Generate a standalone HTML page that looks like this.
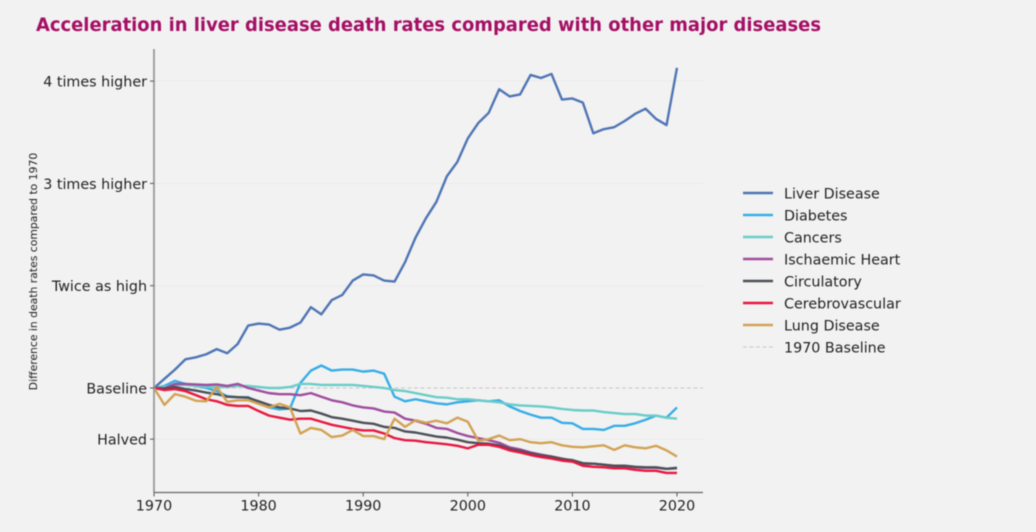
<!DOCTYPE html>
<html lang="en">
<head>
<meta charset="utf-8">
<title>Acceleration in liver disease death rates</title>
<style>
html,body{margin:0;padding:0;background:#f2f2f2;}
body{width:1036px;height:532px;overflow:hidden;}
svg{display:block;filter:blur(0.45px);font-family:"DejaVu Sans","Liberation Sans",sans-serif;}
</style>
</head>
<body>
<svg id="chart" width="1036" height="532" viewBox="0 0 1036 532" xmlns="http://www.w3.org/2000/svg">
  <rect x="0" y="0" width="1036" height="532" fill="#f2f2f2"/>
  <text x="36" y="31" font-size="19" font-weight="bold" fill="#a50f64" textLength="785" lengthAdjust="spacingAndGlyphs">Acceleration in liver disease death rates compared with other major diseases</text>
  <text transform="translate(37,271.5) rotate(-90)" text-anchor="middle" font-size="10.8" fill="#222">Difference in death rates compared to 1970</text>
  <g id="grid"></g>
  <g id="series"></g>
  <g id="axes"></g>
  <g id="legend"></g>
</svg>
<script>
const startYear = 1970;
const xTicks = [1970, 1980, 1990, 2000, 2010, 2020];
const yTickValues = [4, 3, 2, 1, 0.5];
const yTickLabels = ['4 times higher', '3 times higher', 'Twice as high', 'Baseline', 'Halved'];
const baselineValue = 1;
const seriesNames = ['Liver Disease', 'Diabetes', 'Cancers', 'Ischaemic Heart', 'Circulatory', 'Cerebrovascular', 'Lung Disease'];
const baselineName = '1970 Baseline';

const liver = [1.00,1.09,1.18,1.28,1.30,1.33,1.38,1.34,1.43,1.61,1.63,1.62,1.57,1.59,1.64,1.79,1.72,1.86,1.91,2.05,2.11,2.10,2.05,2.04,2.23,2.47,2.66,2.82,3.07,3.21,3.44,3.59,3.69,3.92,3.85,3.87,4.06,4.03,4.07,3.82,3.83,3.79,3.49,3.53,3.55,3.61,3.68,3.73,3.63,3.57,4.13];
const diabetes = [1.00,1.02,1.07,1.04,1.02,1.00,0.97,0.92,0.91,0.91,0.86,0.81,0.79,0.80,1.05,1.17,1.22,1.17,1.18,1.18,1.16,1.17,1.14,0.915,0.87,0.89,0.87,0.85,0.84,0.86,0.87,0.88,0.87,0.88,0.82,0.775,0.74,0.71,0.71,0.66,0.655,0.60,0.60,0.59,0.63,0.63,0.655,0.69,0.73,0.71,0.81];
const cancers = [1.00,1.01,1.03,1.03,1.02,1.01,1.01,1.01,1.02,1.02,1.01,1.00,1.00,1.01,1.04,1.04,1.03,1.03,1.03,1.03,1.02,1.01,1.00,0.98,0.97,0.95,0.93,0.91,0.905,0.89,0.89,0.88,0.87,0.86,0.84,0.83,0.825,0.82,0.81,0.795,0.785,0.78,0.78,0.765,0.755,0.745,0.745,0.73,0.73,0.71,0.70];
const ischaemic = [1.00,0.995,1.04,1.04,1.035,1.03,1.035,1.02,1.04,1.00,0.975,0.95,0.94,0.94,0.93,0.95,0.915,0.88,0.86,0.83,0.81,0.80,0.77,0.76,0.70,0.68,0.65,0.61,0.60,0.56,0.53,0.51,0.49,0.465,0.42,0.40,0.37,0.35,0.33,0.31,0.29,0.26,0.26,0.25,0.235,0.235,0.225,0.22,0.22,0.21,0.215];
const circulatory = [1.00,0.995,1.01,0.99,0.975,0.955,0.94,0.915,0.91,0.905,0.87,0.835,0.81,0.80,0.775,0.78,0.75,0.715,0.70,0.68,0.66,0.65,0.62,0.61,0.575,0.565,0.545,0.525,0.515,0.495,0.47,0.46,0.455,0.44,0.405,0.385,0.36,0.34,0.33,0.305,0.295,0.265,0.26,0.25,0.24,0.24,0.23,0.225,0.225,0.21,0.22];
const cerebrovascular = [1.00,0.98,0.99,0.97,0.93,0.89,0.87,0.835,0.825,0.825,0.775,0.73,0.71,0.69,0.70,0.70,0.67,0.64,0.62,0.60,0.585,0.585,0.555,0.51,0.49,0.485,0.47,0.46,0.45,0.435,0.41,0.445,0.445,0.425,0.39,0.37,0.345,0.325,0.31,0.29,0.28,0.24,0.23,0.225,0.215,0.215,0.20,0.19,0.19,0.17,0.17];
const lung = [1.00,0.835,0.94,0.915,0.875,0.87,1.01,0.865,0.88,0.88,0.845,0.81,0.845,0.81,0.555,0.61,0.59,0.52,0.535,0.59,0.53,0.53,0.50,0.70,0.62,0.685,0.66,0.68,0.655,0.71,0.67,0.485,0.50,0.535,0.49,0.50,0.47,0.46,0.47,0.44,0.425,0.42,0.43,0.44,0.395,0.44,0.42,0.41,0.435,0.39,0.33];

const seriesValues = [liver, diabetes, cancers, ischaemic, circulatory, cerebrovascular, lung];
const seriesColors = ['#4f75b5', '#36ade8', '#6accc8', '#a04c9e', '#4c5058', '#e8173f', '#d2a253'];

const NS = 'http://www.w3.org/2000/svg';
const X0 = 154, PX_PER_YEAR = 10.46, Y_ONE = 388, PX_PER_UNIT = 102.3;
const AXIS_LEFT = 154, AXIS_RIGHT = 703, AXIS_TOP = 49, AXIS_BOTTOM = 492.5;
function xScale(year) { return X0 + (year - startYear) * PX_PER_YEAR; }
function yScale(v) { return Y_ONE - (v - 1) * PX_PER_UNIT; }
function make(tag, attrs, parent) {
  const el = document.createElementNS(NS, tag);
  for (const k in attrs) el.setAttribute(k, attrs[k]);
  parent.appendChild(el);
  return el;
}
function slug(s) { return s.toLowerCase().replace(/[^a-z0-9]+/g, '-'); }

const gridG = document.getElementById('grid');
const seriesG = document.getElementById('series');
const axesG = document.getElementById('axes');
const legendG = document.getElementById('legend');

yTickValues.forEach(function (v) {
  if (v === baselineValue) return;
  const g = make('line', {x1: AXIS_LEFT, x2: AXIS_RIGHT, y1: yScale(v), y2: yScale(v), stroke: '#e2e2e2', 'stroke-width': 1, 'stroke-dasharray': '1 1'}, gridG);
  
  
});

const base = make('line', {x1: AXIS_LEFT, x2: AXIS_RIGHT, y1: yScale(baselineValue), y2: yScale(baselineValue), stroke: '#c8c8c8', 'stroke-width': 1, 'stroke-dasharray': '4 2.5'}, gridG);



seriesValues.forEach(function (vals, i) {
  const pts = vals.map(function (v, j) { return xScale(startYear + j).toFixed(2) + ',' + yScale(v).toFixed(2); }).join(' ');
  const line = make('polyline', {points: pts, fill: 'none', stroke: seriesColors[i], 'stroke-width': 2.4, 'stroke-linejoin': 'round'}, seriesG);
  
  
});

const leftAxis = make('line', {x1: AXIS_LEFT, x2: AXIS_LEFT, y1: AXIS_TOP, y2: AXIS_BOTTOM, stroke: '#999', 'stroke-width': 1.8}, axesG);



const bottomAxis = make('line', {x1: AXIS_LEFT, x2: AXIS_RIGHT, y1: AXIS_BOTTOM, y2: AXIS_BOTTOM, stroke: '#666', 'stroke-width': 1.3}, axesG);



yTickValues.forEach(function (v, i) {
  const tick = make('line', {x1: AXIS_LEFT - 4, x2: AXIS_LEFT, y1: yScale(v), y2: yScale(v), stroke: '#555', 'stroke-width': 1}, axesG);
  
  
  const t = make('text', {x: AXIS_LEFT - 7, y: yScale(v) + 5.5, 'text-anchor': 'end', 'font-size': 14.3, fill: '#222'}, axesG);
  
  
  t.textContent = yTickLabels[i];
});

xTicks.forEach(function (yr) {
  const tick = make('line', {x1: xScale(yr), x2: xScale(yr), y1: AXIS_BOTTOM, y2: AXIS_BOTTOM + 4, stroke: '#555', 'stroke-width': 1}, axesG);
  
  
  const t = make('text', {x: xScale(yr), y: 510.5, 'text-anchor': 'middle', 'font-size': 14.3, fill: '#222'}, axesG);
  
  
  t.textContent = yr;
});

seriesNames.concat([baselineName]).forEach(function (name, i) {
  const rowY = 193 + i * 22;
  const isBase = i === seriesNames.length;
  const key = make('line', {x1: 743, x2: 773, y1: rowY, y2: rowY, stroke: isBase ? '#c8c8c8' : seriesColors[i], 'stroke-width': isBase ? 1 : 2.4}, legendG);
  if (isBase) key.setAttribute('stroke-dasharray', '4 2.5');
  
  
  const label = make('text', {x: 784, y: rowY + 5.5, 'font-size': 14.3, fill: '#222'}, legendG);
  
  
  label.textContent = name;
});
</script>
</body>
</html>
